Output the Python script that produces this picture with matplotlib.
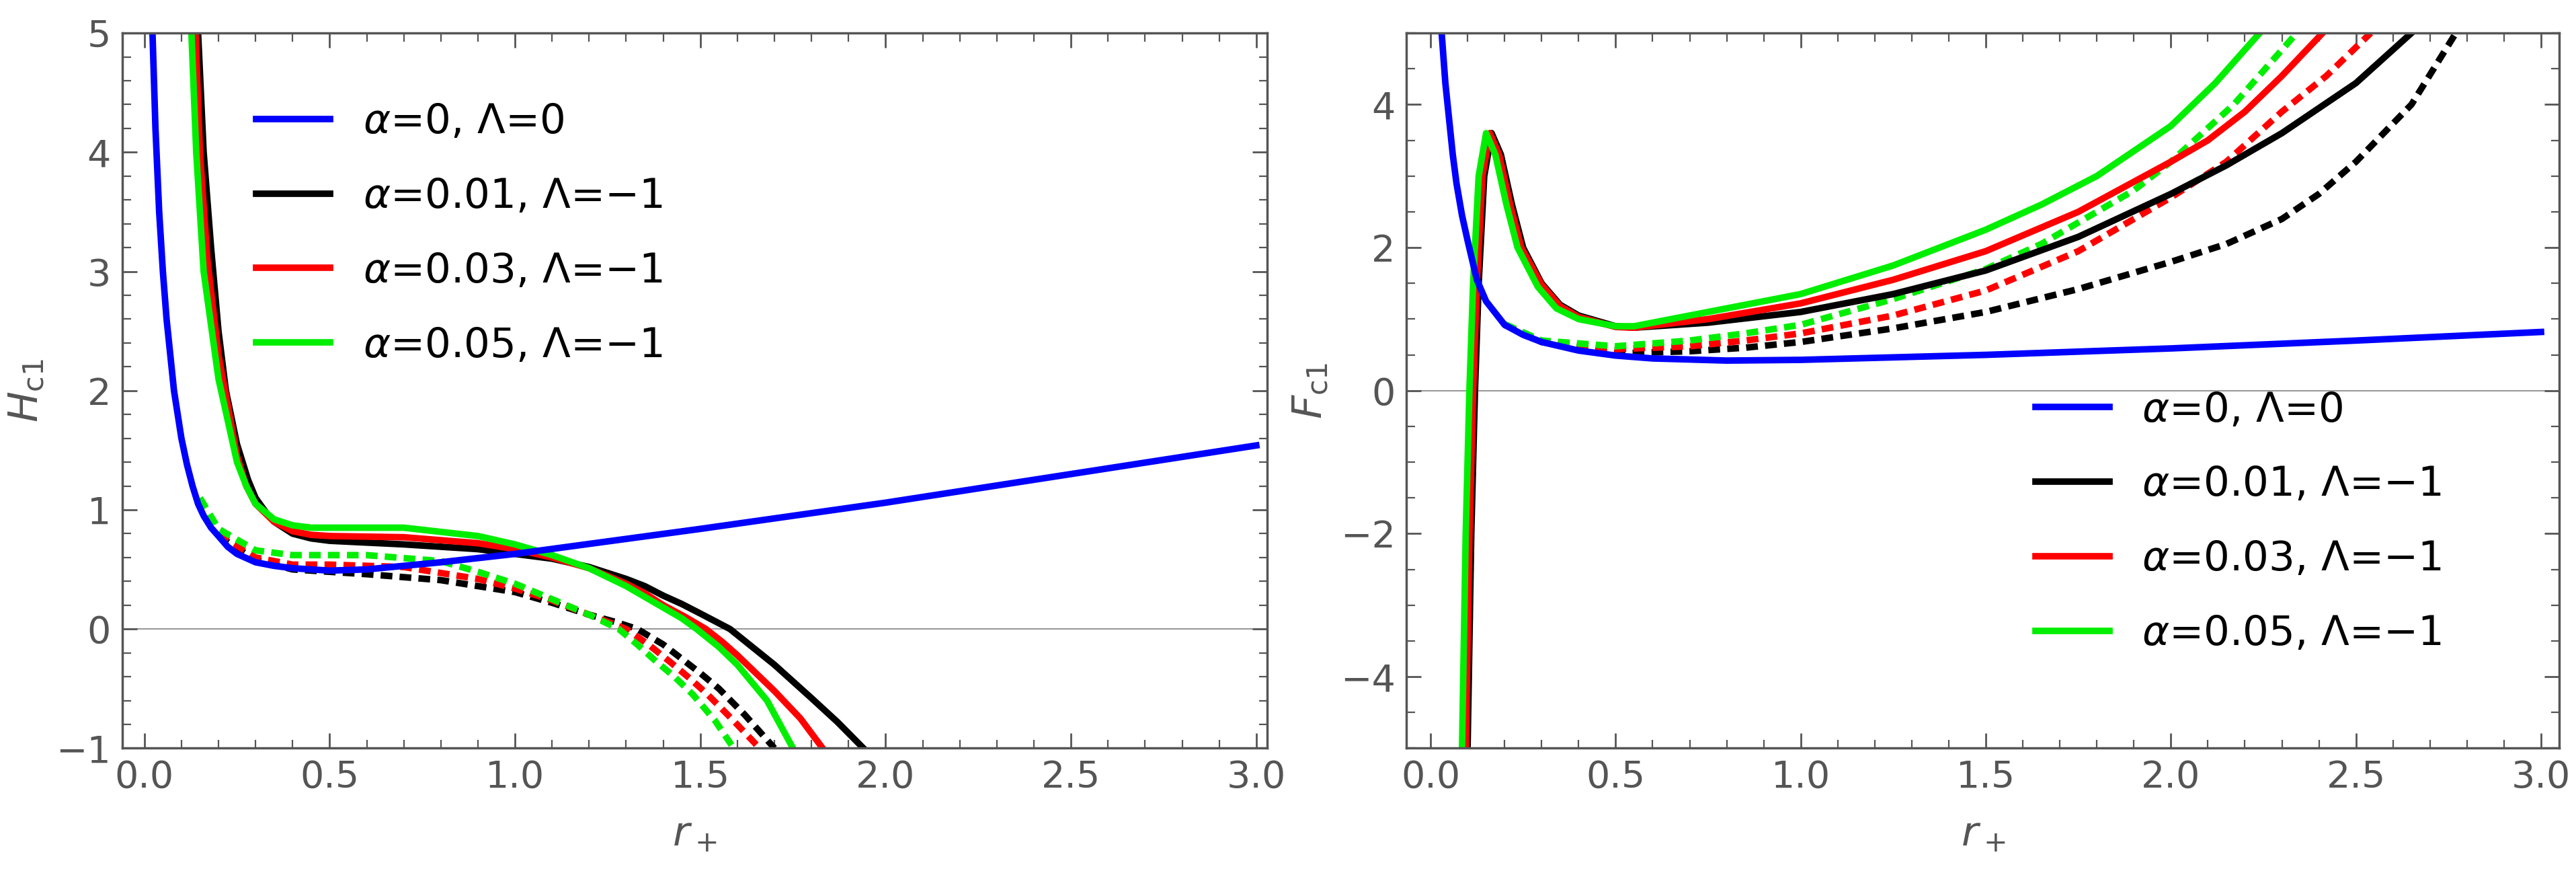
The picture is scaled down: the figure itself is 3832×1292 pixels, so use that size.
import matplotlib
matplotlib.use("Agg")
import matplotlib.pyplot as plt
from matplotlib.ticker import MultipleLocator
from matplotlib.lines import Line2D

# ---- data: left panel H_c1 ----
hb_x = [0.022,0.03,0.04,0.05,0.06,0.07,0.08,0.09,0.1,0.115,0.13,0.145,0.16,0.18,0.2,0.225,0.25,0.3,0.35,0.4,0.5,0.6,0.7,0.8,1.0,1.5,2.0,2.5,3.0]
hb_y = [5,4.2,3.5,3.0,2.6,2.3,2.0,1.8,1.6,1.38,1.2,1.05,0.95,0.85,0.78,0.69,0.63,0.56,0.53,0.51,0.49,0.5,0.53,0.56,0.63,0.84,1.06,1.3,1.54]
hk_x = [0.145,0.16,0.18,0.2,0.22,0.25,0.28,0.3,0.33,0.35,0.4,0.45,0.5,0.7,0.9,1.0,1.1,1.2,1.3,1.35,1.4,1.45,1.5,1.58,1.64,1.7,1.75,1.8,1.87,1.94]
hk_y = [5,4,3.2,2.5,2.0,1.55,1.25,1.1,0.97,0.9,0.8,0.76,0.74,0.71,0.67,0.63,0.59,0.52,0.42,0.36,0.28,0.21,0.13,0,-0.15,-0.3,-0.44,-0.58,-0.78,-1]
hr_x = [0.138,0.15,0.17,0.2,0.25,0.275,0.3,0.35,0.4,0.45,0.5,0.7,0.9,1.0,1.1,1.2,1.3,1.35,1.4,1.46,1.515,1.56,1.6,1.65,1.7,1.77,1.83]
hr_y = [5,4,3.1,2.3,1.45,1.2,1.05,0.9,0.82,0.79,0.78,0.77,0.72,0.67,0.6,0.51,0.38,0.3,0.2,0.1,0,-0.11,-0.22,-0.37,-0.52,-0.75,-1]
hg_x = [0.127,0.14,0.16,0.2,0.25,0.275,0.3,0.35,0.4,0.45,0.5,0.7,0.9,1.0,1.1,1.2,1.3,1.35,1.4,1.45,1.49,1.55,1.6,1.68,1.75]
hg_y = [5,4,3.0,2.1,1.4,1.2,1.05,0.92,0.87,0.85,0.85,0.85,0.78,0.71,0.62,0.51,0.36,0.27,0.18,0.09,0,-0.15,-0.3,-0.6,-1]
hkd_x = [0.2,0.3,0.4,0.5,0.6,0.8,1.0,1.1,1.2,1.27,1.33,1.4,1.45,1.5,1.55,1.62,1.70]
hkd_y = [0.78,0.58,0.5,0.48,0.46,0.41,0.31,0.22,0.12,0.06,0,-0.13,-0.25,-0.37,-0.5,-0.72,-1]
hrd_x = [0.2,0.3,0.4,0.5,0.7,0.9,1.0,1.1,1.2,1.25,1.30,1.36,1.42,1.47,1.52,1.59,1.66]
hrd_y = [0.8,0.6,0.54,0.54,0.52,0.42,0.34,0.24,0.12,0.06,0,-0.13,-0.28,-0.41,-0.55,-0.77,-1]
hgd_x = [0.15,0.2,0.3,0.4,0.6,0.8,0.9,1.0,1.1,1.2,1.24,1.28,1.33,1.38,1.43,1.48,1.54,1.59]
hgd_y = [1.1,0.84,0.66,0.62,0.62,0.57,0.48,0.38,0.25,0.12,0.06,0,-0.13,-0.27,-0.4,-0.55,-0.77,-1]

# ---- data: right panel F_c1 ----
fb_x = [0.03,0.04,0.05,0.06,0.07,0.085,0.1,0.125,0.15,0.2,0.25,0.3,0.4,0.5,0.6,0.8,1.0,1.5,2.0,2.5,3.0]
fb_y = [5,4.3,3.8,3.3,2.9,2.45,2.1,1.55,1.25,0.92,0.78,0.68,0.56,0.49,0.45,0.42,0.43,0.5,0.59,0.7,0.82]
fk_x = [0.10,0.11,0.12,0.13,0.145,0.165,0.19,0.22,0.25,0.3,0.35,0.4,0.5,0.55,0.75,1.0,1.25,1.5,1.75,2.0,2.15,2.3,2.5,2.65]
fk_y = [-5,-2,0,1.5,3.0,3.6,3.3,2.6,2.0,1.5,1.2,1.05,0.9,0.88,0.95,1.1,1.35,1.68,2.15,2.75,3.15,3.6,4.3,5]
fr_x = [0.095,0.105,0.115,0.125,0.14,0.16,0.185,0.215,0.245,0.3,0.35,0.4,0.5,0.55,0.75,1.0,1.25,1.5,1.75,2.0,2.1,2.2,2.3,2.41]
fr_y = [-5,-2,0,1.5,3.0,3.6,3.3,2.6,2.0,1.48,1.18,1.03,0.89,0.88,1.0,1.22,1.55,1.95,2.5,3.2,3.5,3.9,4.4,5]
fg_x = [0.085,0.095,0.105,0.115,0.13,0.15,0.175,0.205,0.235,0.29,0.34,0.4,0.5,0.55,0.75,1.0,1.25,1.5,1.65,1.8,1.9,2.0,2.12,2.24]
fg_y = [-5,-2,0,1.5,3.0,3.6,3.3,2.6,2.0,1.45,1.15,1.0,0.9,0.9,1.1,1.35,1.75,2.25,2.6,3.0,3.35,3.7,4.3,5]
fkd_x = [0.2,0.3,0.5,0.7,0.85,1.0,1.25,1.5,1.75,2.0,2.15,2.3,2.4,2.5,2.65,2.77]
fkd_y = [0.92,0.68,0.52,0.55,0.6,0.68,0.87,1.1,1.42,1.8,2.05,2.4,2.75,3.2,4.0,5]
frd_x = [0.2,0.3,0.5,0.7,0.85,1.0,1.25,1.5,1.75,2.0,2.15,2.3,2.42,2.54]
frd_y = [0.92,0.69,0.58,0.62,0.7,0.8,1.05,1.4,1.95,2.7,3.2,3.9,4.4,5]
fgd_x = [0.2,0.3,0.5,0.7,0.85,1.0,1.25,1.5,1.65,1.8,1.9,2.0,2.17,2.34]
fgd_y = [0.93,0.7,0.62,0.7,0.8,0.92,1.28,1.7,2.05,2.5,2.8,3.2,4.0,5]

labels = [r"$\alpha$=0, $\Lambda$=0", r"$\alpha$=0.01, $\Lambda$=−1",
          r"$\alpha$=0.03, $\Lambda$=−1", r"$\alpha$=0.05, $\Lambda$=−1"]
colors = ["#0000ff", "#000000", "#ff0000", "#00ee00"]

plt.rcParams['font.family'] = ['DejaVu Sans']
plt.rcParams['mathtext.fontset'] = 'dejavusans'

fig = plt.figure(figsize=(38.32, 12.92), dpi=100)
ax1 = fig.add_axes([0.0474, 0.139, 0.4446, 0.823])
ax2 = fig.add_axes([0.546, 0.139, 0.4476, 0.823])

lw = 7
dash = (0, (1.8, 1.1))
gray = "#555555"

def style(ax):
    ax.tick_params(which='both', direction='in', top=True, right=True, colors=gray,
                   labelsize=40, labelcolor=gray, pad=12)
    ax.tick_params(which='major', length=16, width=2)
    ax.tick_params(which='minor', length=9, width=1.6)
    for s in ax.spines.values():
        s.set_color(gray); s.set_linewidth(2.5)
    ax.axhline(0, color="#999999", lw=1.5, zorder=0)
    ax.xaxis.set_major_locator(MultipleLocator(0.5))
    ax.xaxis.set_minor_locator(MultipleLocator(0.1))
    ax.set_xlabel(r"$r_+$", fontsize=44, color=gray, labelpad=20)

def draw(ax, dashed, solid, blue):
    for (x, y), c in zip(dashed, colors[1:]):
        ax.plot(x, y, color=c, lw=lw, ls=dash)
    for (x, y), c in zip(solid, colors[1:]):
        ax.plot(x, y, color=c, lw=lw, solid_joinstyle='round')
    ax.plot(blue[0], blue[1], color=colors[0], lw=lw, solid_joinstyle='round')

draw(ax1, [(hkd_x, hkd_y), (hrd_x, hrd_y), (hgd_x, hgd_y)],
     [(hk_x, hk_y), (hr_x, hr_y), (hg_x, hg_y)], (hb_x, hb_y))
style(ax1)
ax1.set_xlim(-0.06, 3.03)
ax1.set_ylim(-1, 5)
ax1.yaxis.set_major_locator(MultipleLocator(1))
ax1.yaxis.set_minor_locator(MultipleLocator(0.2))
ax1.set_ylabel(r"$H_{\rm c1}$", fontsize=44, color=gray, labelpad=10)

draw(ax2, [(fkd_x, fkd_y), (frd_x, frd_y), (fgd_x, fgd_y)],
     [(fk_x, fk_y), (fr_x, fr_y), (fg_x, fg_y)], (fb_x, fb_y))
style(ax2)
ax2.set_xlim(-0.065, 3.05)
ax2.set_ylim(-5, 5)
ax2.yaxis.set_major_locator(MultipleLocator(2))
ax2.yaxis.set_minor_locator(MultipleLocator(0.5))
ax2.set_ylabel(r"$F_{\rm c1}$", fontsize=44, color=gray, labelpad=10)

handles = [Line2D([], [], color=c, lw=lw) for c in colors]
ax1.legend(handles, labels, loc='upper left', bbox_to_anchor=(0.085, 0.955), frameon=False,
           fontsize=44, handlelength=1.8, labelspacing=0.85, handletextpad=0.8)
ax2.legend(handles, labels, loc='lower right', bbox_to_anchor=(0.93, 0.08), frameon=False,
           fontsize=44, handlelength=1.8, labelspacing=0.85, handletextpad=0.8)

fig.savefig("out.png", dpi=100)
